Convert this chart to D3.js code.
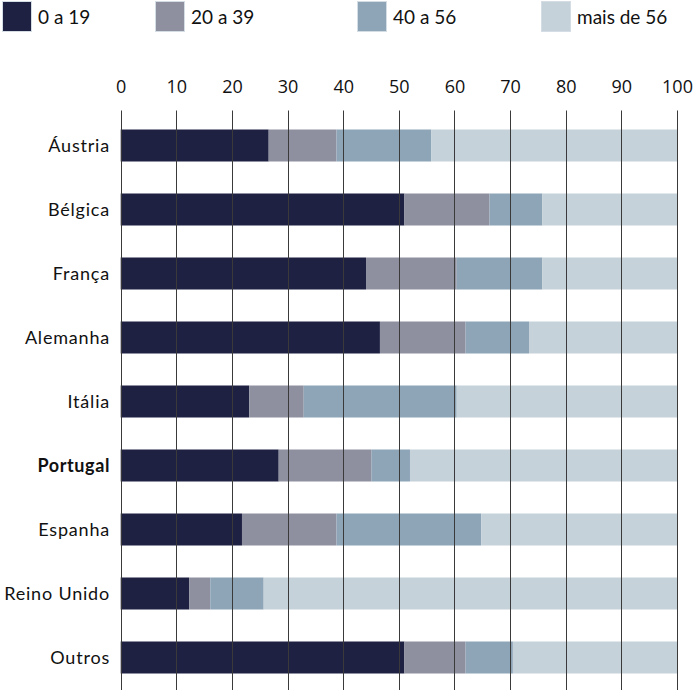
<!DOCTYPE html>
<html>
<head>
<meta charset="utf-8">
<script src="https://cdn.jsdelivr.net/npm/d3@7"></script>
<style>
  html, body { margin: 0; padding: 0; background: #fff; }
  svg { display: block; }
</style>
</head>
<body>
<svg id="chart" width="700" height="690"></svg>
<script>
const categories = ["Áustria", "Bélgica", "França", "Alemanha", "Itália", "Portugal", "Espanha", "Reino Unido", "Outros"];
const seriesNames = ["0 a 19", "20 a 39", "40 a 56", "mais de 56"];
const s0to19   = [26.6, 51.0, 44.1, 46.6, 23.1, 28.4, 21.8, 12.3, 51.0];
const s20to39  = [12.2, 15.3, 16.3, 15.4,  9.8, 16.7, 17.0,  3.8, 11.0];
const s40to56  = [17.0,  9.5, 15.4, 11.4, 27.5,  6.9, 26.0,  9.6,  8.5];
const sMais56  = [44.2, 24.2, 24.2, 26.6, 39.6, 48.0, 35.2, 74.3, 29.5];
const tickValues = [0, 10, 20, 30, 40, 50, 60, 70, 80, 90, 100];
const colors = ["#1e2142", "#8e90a0", "#8ea5b8", "#c5d2da"];

const seriesValues = [s0to19, s20to39, s40to56, sMais56];
const table = categories.map((c, i) => {
  const row = { cat: c };
  seriesNames.forEach((s, j) => row[s] = seriesValues[j][i]);
  return row;
});

const svg = d3.select("#chart");
const x = d3.scaleLinear().domain([0, 100]).range([120.7, 677]);
const y = d3.scaleBand().domain(categories).range([113.5, 689.5]).paddingInner(0.5).paddingOuter(0.25);

const stack = d3.stack().keys(seriesNames);
const stacked = stack(table);

// bars
svg.append("g").selectAll("g").data(stacked).join("g")
  .attr("fill", (d, i) => colors[i])
  .selectAll("rect").data(d => d).join("rect")
  .attr("x", d => x(d[0]))
  .attr("width", d => x(d[1]) - x(d[0]))
  .attr("y", d => y(d.data.cat))
  .attr("height", y.bandwidth());

// gridlines (on top)
svg.append("g").selectAll("line").data(tickValues).join("line")
  .attr("x1", d => Math.round(x(d)) + 0.5)
  .attr("x2", d => Math.round(x(d)) + 0.5)
  .attr("y1", 110.5).attr("y2", 690)
  .attr("stroke", "#3a3a3a").attr("stroke-width", 1);

// top axis labels
const axis = d3.axisTop(x).tickValues(tickValues).tickSize(0).tickPadding(0);
const ag = svg.append("g").attr("transform", "translate(0,93)").call(axis);
ag.select(".domain").remove();
ag.selectAll("text")
  .attr("font-family", "'Open Sans', sans-serif")
  .attr("font-size", 18)
  .attr("fill", "#111")
  .attr("dy", 0);

// category labels
svg.append("g").selectAll("text").data(categories).join("text")
  .attr("x", 110)
  .attr("y", d => y(d) + y.bandwidth() / 2)
  .attr("dy", "0.35em")
  .attr("text-anchor", "end")
  .attr("font-family", "Lato, sans-serif")
  .attr("font-size", 18)
  .attr("font-weight", d => d === "Portugal" ? 700 : 400)
  .attr("letter-spacing", d => d === "Portugal" ? 0.6 : 0.8)
  .attr("fill", "#111")
  .text(d => d);

// legend
const legendX = [2, 155, 357, 541];
const lg = svg.append("g").selectAll("g").data(seriesNames).join("g")
  .attr("transform", (d, i) => `translate(${legendX[i]},1)`);
lg.append("rect")
  .attr("x", 0.5).attr("y", 0.5).attr("width", 29).attr("height", 30)
  .attr("fill", (d, i) => colors[i])
  .attr("stroke", "#d4dde3").attr("stroke-width", 1);
lg.append("text")
  .attr("x", 36).attr("y", 16)
  .attr("dy", "0.35em")
  .attr("font-family", "Lato, sans-serif")
  .attr("font-size", 19)
  .attr("fill", "#111")
  .text(d => d);
</script>
</body>
</html>
